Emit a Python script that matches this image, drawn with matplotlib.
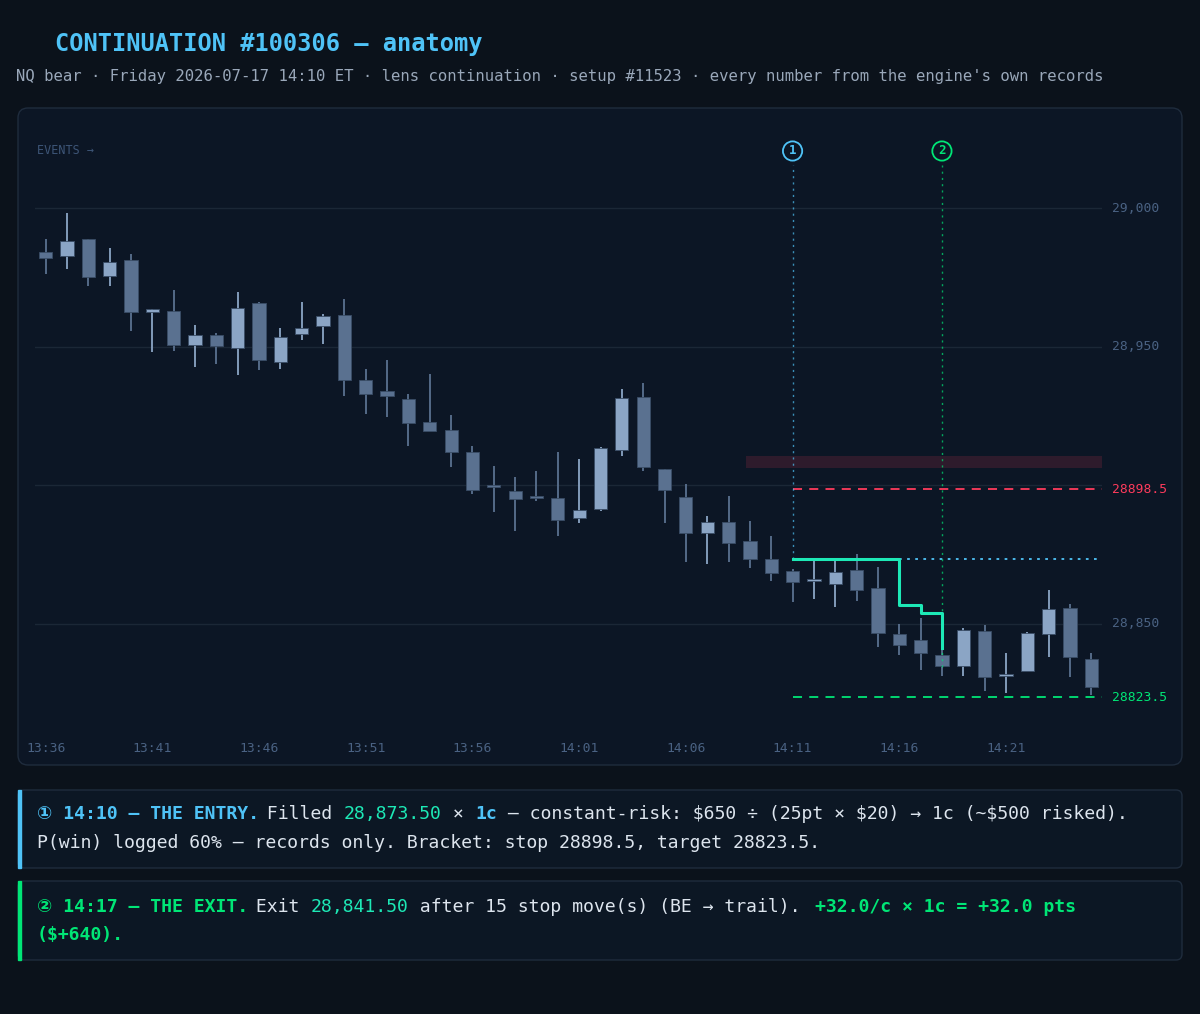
import matplotlib
matplotlib.use("Agg")
import matplotlib.pyplot as plt
from matplotlib.patches import FancyBboxPatch, Rectangle
from matplotlib.transforms import IdentityTransform, blended_transform_factory

# ---------------- data ----------------
times = ["13:36","13:37","13:38","13:39","13:40","13:41","13:42","13:43","13:44","13:45",
         "13:46","13:47","13:48","13:49","13:50","13:51","13:52","13:53","13:54","13:55",
         "13:56","13:57","13:58","13:59","14:00","14:01","14:02","14:03","14:04","14:05",
         "14:06","14:07","14:08","14:09","14:10","14:11","14:12","14:13","14:14","14:15",
         "14:16","14:17","14:18","14:19","14:20","14:21","14:22","14:23","14:24","14:25"]
opens  = [28984.1,28982.7,28988.8,28975.5,28981.2,28962.5,28962.9,28950.6,28954.2,28949.5,
          28965.7,28944.5,28954.6,28957.4,28961.4,28938.0,28934.0,28931.1,28922.8,28919.9,
          28912.0,28899.6,28897.9,28895.8,28895.4,28888.2,28891.5,28912.7,28931.8,28905.9,
          28895.8,28882.8,28886.8,28879.9,28873.4,28869.1,28865.6,28864.4,28869.5,28863.0,
          28846.4,28844.2,28838.8,28834.8,28847.5,28831.2,28833.0,28846.4,28855.8,28837.4]
highs  = [28988.8,28998.2,28989.0,28985.6,28983.4,28963.4,28970.4,28957.8,28954.9,28969.7,
          28966.1,28956.7,28966.1,28961.8,28967.2,28941.9,28945.2,28932.9,28940.1,28925.4,
          28914.2,28907.0,28903.0,28905.2,28912.0,28909.5,28913.8,28934.7,28936.9,28905.9,
          28900.5,28888.9,28896.1,28887.1,28881.7,28869.8,28873.4,28873.4,28875.2,28870.5,
          28850.0,28852.2,28841.3,28848.6,28849.6,28839.5,28847.1,28862.2,28857.2,28839.5]
lows   = [28976.2,28978.0,28971.9,28971.9,28955.6,28948.1,28948.4,28942.7,28943.7,28939.8,
          28941.6,28941.9,28952.4,28951.0,28932.2,28925.7,28924.6,28914.2,28919.6,28906.6,
          28896.9,28890.4,28883.5,28894.3,28881.7,28886.4,28890.7,28910.6,28905.2,28886.4,
          28872.3,28871.6,28872.3,28870.2,28865.5,28857.9,28859.0,28856.1,28858.3,28841.7,
          28838.8,28833.4,28831.2,28831.2,28825.8,28825.1,28833.0,28838.1,28830.9,28824.4]
closes = [28982.0,28988.1,28975.1,28980.5,28962.5,28963.6,28950.6,28954.2,28950.2,28963.9,
          28945.2,28953.5,28956.7,28961.1,28938.0,28932.9,28932.2,28922.5,28919.6,28912.0,
          28898.3,28899.4,28895.1,28895.4,28887.5,28891.1,28913.5,28931.5,28906.6,28898.3,
          28882.8,28886.8,28879.2,28873.4,28868.4,28865.1,28865.8,28868.7,28862.2,28846.7,
          28842.4,28839.5,28834.8,28847.8,28830.9,28831.6,28846.7,28855.4,28838.1,28827.3]
ygrid = [28850, 28900, 28950, 29000]
ylabels = ["28,850", "", "28,950", "29,000"]
xtick_idx = [0, 5, 10, 15, 20, 25, 30, 35, 40, 45]
entry_idx, exit_idx = 35, 42
entry_price, stop_price, target_price, exit_price = 28873.5, 28898.5, 28823.5, 28841.5
trail_x = [35, 40, 40, 41, 41, 42, 42]
trail_y = [28873.5, 28873.5, 28857.0, 28857.0, 28854.0, 28854.0, 28841.5]
zone_x = [32.8, 49.5]
zone_y = [28906.3, 28910.6]

# ---------------- colours ----------------
BG = "#0b121b"; PANEL = "#0c1625"; BORDER = "#1f2c3d"
UP = "#8ba5c5"; DOWN = "#5a7190"; GRID = "#1b2736"; TICK = "#4a6283"
CYAN = "#4fc3f7"; GREEN = "#00e676"; TEAL = "#1de9b6"; RED = "#ff3b5c"; WHITE = "#dde5ee"
MONO = ["DejaVu Sans Mono", "DejaVu Sans"]

W, H = 1200, 1014
fig = plt.figure(figsize=(W/100, H/100), dpi=100, facecolor=BG)
pix = IdentityTransform()

def P(x, y):
    return x, H - y

def box(x0, y0, x1, y1, face, edge, r=8):
    fig.patches.append(FancyBboxPatch(P(x0, y1), x1-x0, y1-y0,
        boxstyle=f"round,pad=0,rounding_size={r}", transform=pix,
        facecolor=face, edgecolor=edge, linewidth=1, zorder=-5))

def segs(x, y, parts, size):
    cw = 0.602 * size * 100 / 72
    for txt, col, bold in parts:
        fig.text(*P(x, y), txt, transform=pix, color=col, fontsize=size,
                 fontweight="bold" if bold else "normal", family=MONO,
                 va="center", ha="left", zorder=5)
        x += len(txt) * cw

segs(55, 44, [("CONTINUATION #100306 — anatomy", CYAN, True)], 17)
segs(16, 76, [("NQ bear · Friday 2026-07-17 14:10 ET · lens continuation · setup #11523 · "
               "every number from the engine's own records", "#9aa8ba", False)], 11.25)

box(18, 108, 1182, 765, PANEL, BORDER, 10)

ax_top, ax_bot, ax_l, ax_r = 120, 720, 35, 1102
ax = fig.add_axes([ax_l/W, 1-ax_bot/H, (ax_r-ax_l)/W, (ax_bot-ax_top)/H])
ax.set_zorder(2)
ax.set_facecolor("none")
for s in ax.spines.values():
    s.set_visible(False)
ax.set_xticks([]); ax.set_yticks([])
ax.set_xlim(-0.5, 49.5)
ax.set_ylim(29000 - 512*0.3606, 29000 + 88*0.3606)

for g in ygrid:
    ax.axhline(g, color=GRID, lw=1, zorder=0)

for i in range(len(times)):
    o, h, l, c = opens[i], highs[i], lows[i], closes[i]
    col = UP if c >= o else DOWN
    ax.vlines(i, l, h, color=col, lw=1.3, zorder=2)
    ax.bar(i, max(abs(c-o), 0.6), bottom=min(o, c), width=0.62, color=col,
           edgecolor="#3a4d66", linewidth=0.6, zorder=3)

ax.fill_between(zone_x, zone_y[0], zone_y[1], color="#2e1b2c", zorder=1, lw=0)
ax.hlines(stop_price, entry_idx, 49.5, color=RED, lw=1.3, ls=(0, (5, 4)), zorder=4)
ax.hlines(target_price, entry_idx, 49.5, color=GREEN, lw=1.3, ls=(0, (5, 4)), zorder=4)
ax.hlines(entry_price, trail_x[1], 49.5, color=CYAN, lw=1.3, ls=(0, (1.5, 3)), zorder=4)
ax.plot(trail_x, trail_y, color=TEAL, lw=2.2, zorder=5)

frac151 = (ax_bot - 151) / (ax_bot - ax_top)
ytop = ax.get_ylim()[0] + (ax_bot - 165) / (ax_bot - ax_top) * (ax.get_ylim()[1] - ax.get_ylim()[0])
ax.vlines(entry_idx, entry_price, ytop, color=CYAN, lw=1, ls=(0, (1.5, 3)), alpha=0.7, zorder=4)
ax.vlines(exit_idx, exit_price - 7, ytop, color=GREEN, lw=1, ls=(0, (1.5, 3)), alpha=0.7, zorder=4)

bt = blended_transform_factory(ax.transAxes, ax.transData)
for g, lab in zip(ygrid, ylabels):
    if lab:
        ax.annotate(lab, (1, g), xycoords=bt, xytext=(7, 0), textcoords="offset points",
                    color=TICK, fontsize=9.4, family=MONO, va="center", annotation_clip=False)
ax.annotate(f"{stop_price}", (1, stop_price), xycoords=bt, xytext=(7, 0), annotation_clip=False,
            textcoords="offset points", color=RED, fontsize=9.4, family=MONO, va="center")
ax.annotate(f"{target_price}", (1, target_price), xycoords=bt, xytext=(7, 0), annotation_clip=False,
            textcoords="offset points", color=GREEN, fontsize=9.4, family=MONO, va="center")

bx = blended_transform_factory(ax.transData, ax.transAxes)
for i in xtick_idx:
    ax.text(i, -(748-ax_bot)/(ax_bot-ax_top), times[i], transform=bx, color=TICK,
            fontsize=9.4, family=MONO, ha="center", va="center", clip_on=False)

segs(37, 151, [("EVENTS →", "#3d5577", False)], 8.5)
for idx, num, col in [(entry_idx, "1", CYAN), (exit_idx, "2", GREEN)]:
    ax.annotate(num, (idx, frac151), xycoords=bx,
                color=col, fontsize=9, family=MONO, fontweight="bold", ha="center", va="center",
                bbox=dict(boxstyle="circle,pad=0.25", fc=PANEL, ec=col, lw=1.3),
                annotation_clip=False, zorder=6)

box(18, 790, 1182, 868, "#0c1724", BORDER, 6)
fig.patches.append(Rectangle(P(18, 868), 3, 78, transform=pix, color=CYAN, zorder=-4))
segs(37, 814, [("① 14:10 — THE ENTRY.", CYAN, True), (" Filled ", WHITE, False),
               ("28,873.50", TEAL, False), (" × ", WHITE, False), ("1c", CYAN, True),
               (" — constant-risk: $650 ÷ (25pt × $20) → 1c (~$500 risked).", WHITE, False)], 13.1)
segs(37, 843, [("P(win) logged 60% — records only. Bracket: stop 28898.5, target 28823.5.", WHITE, False)], 13.1)

box(18, 881, 1182, 960, "#0c1724", BORDER, 6)
fig.patches.append(Rectangle(P(18, 960), 3, 79, transform=pix, color=GREEN, zorder=-4))
segs(37, 907, [("② 14:17 — THE EXIT.", GREEN, True), (" Exit ", WHITE, False),
               ("28,841.50", TEAL, False), (" after 15 stop move(s) (BE → trail). ", WHITE, False),
               ("+32.0/c × 1c = +32.0 pts", GREEN, True)], 13.1)
segs(37, 935, [("($+640).", GREEN, True)], 13.1)

fig.savefig("out.png", dpi=100, facecolor=BG)
